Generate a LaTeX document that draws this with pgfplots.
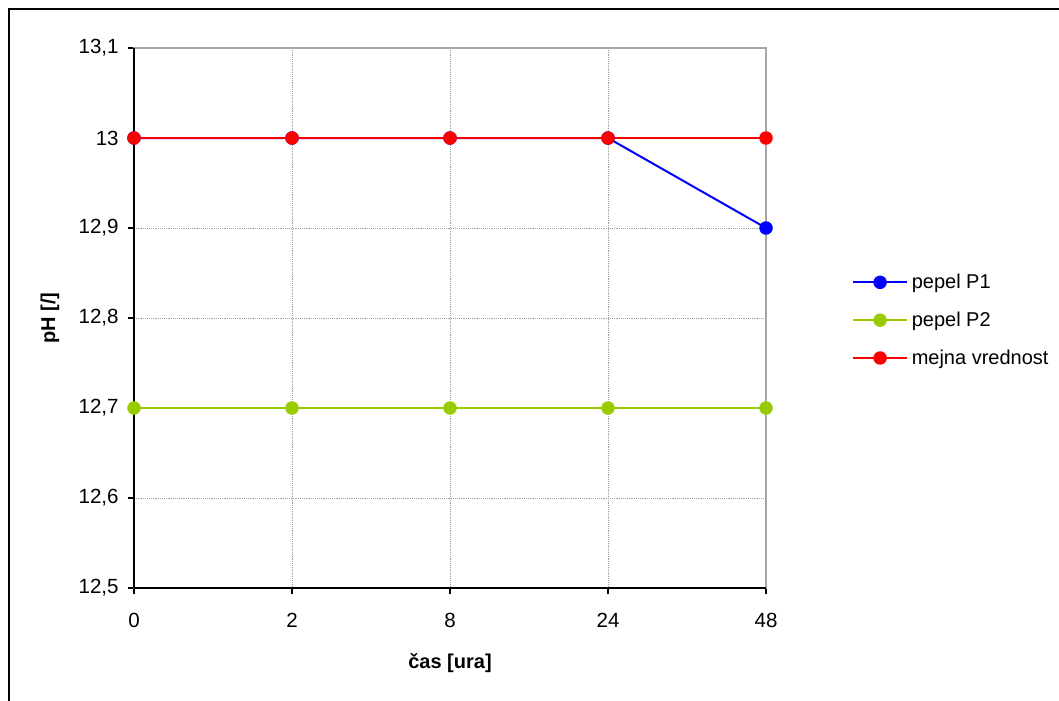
\documentclass[border=0pt]{standalone}
\usepackage{pgfplots}
\pgfplotsset{compat=1.18}
\usepackage{fontspec}
\setmainfont{Liberation Sans}

\definecolor{pOne}{RGB}{0,0,255}
\definecolor{pTwo}{RGB}{153,204,0}
\definecolor{limit}{RGB}{255,0,0}

\begin{document}
\begin{tikzpicture}[x=0.75pt,y=0.75pt]
  \useasboundingbox (0,0) rectangle (1059,700);
  \clip (0,0) rectangle (1059,700);
  % chart frame
  \draw[black, line width=2pt] (9,-30) rectangle (1090,691);
  \begin{axis}[
    at={(100.5pt,84pt)}, anchor=south west,
    scale only axis, width=474pt, height=405pt,
    xmin=0, xmax=4, ymin=12.5, ymax=13.1,
    xtick={0,1,2,3,4}, xticklabels={0,2,8,24,48},
    ytick={12.5,12.6,...,13.1},
    xtick pos=bottom, ytick pos=left,
    tick align=outside, major tick length=4.5pt,
    tick style={black, line width=1.2pt},
    axis line style={draw=gray!70, line width=1.2pt},
    grid=major,
    major grid style={densely dotted, gray!75, line width=0.7pt},
    font=\fontsize{15}{18}\selectfont,
    ticklabel style={font=\fontsize{15.4}{18}\selectfont},
    xticklabel style={yshift=-11pt},
    yticklabel style={xshift=-3.5pt},
    /pgf/number format/.cd, use comma, fixed, precision=1,
    /pgfplots/.cd,
    /pgf/number format/assume math mode=true,
    xlabel={\textbf{čas [ura]}},
    ylabel={\textbf{pH [/]}},
    label style={font=\fontsize{16}{19}\selectfont},
    every axis x label/.style={at={(axis description cs:0.5,0)}, anchor=center, yshift=-56pt},
    every axis y label/.style={at={(axis description cs:0,0.5)}, anchor=center, xshift=-63pt, rotate=90},
    clip=false,
    legend style={
      at={(axis description cs:1.13,0.496)}, anchor=west,
      draw=none, fill=none,
      font=\fontsize{15}{18}\selectfont,
      row sep=16pt,
      nodes={inner ysep=0pt, inner xsep=3pt},
    },
    legend cell align=left,
    legend image code/.code={
      \draw[mark repeat=2,mark phase=2,line width=1.5pt,#1]
        plot coordinates {(0pt,0pt) (20pt,0pt) (40pt,0pt)};
    },
  ]
    % black value axes over the grey plot-area frame
    \draw[black, line width=1.6pt] (rel axis cs:0,0) -- (rel axis cs:0,1);
    \draw[black, line width=1.6pt] (rel axis cs:0,0) -- (rel axis cs:1,0);

    \addplot[pOne, line width=1.5pt, mark=*, mark size=4.3pt,
      mark options={fill=pOne, draw=pOne}]
      coordinates {(0,13) (1,13) (2,13) (3,13) (4,12.9)};
    \addlegendentry{pepel P1}
    \addplot[pTwo, line width=1.5pt, mark=*, mark size=4.3pt,
      mark options={fill=pTwo, draw=pTwo}]
      coordinates {(0,12.7) (1,12.7) (2,12.7) (3,12.7) (4,12.7)};
    \addlegendentry{pepel P2}
    \addplot[limit, line width=1.5pt, mark=*, mark size=4.3pt,
      mark options={fill=limit, draw=limit}]
      coordinates {(0,13) (1,13) (2,13) (3,13) (4,13)};
    \addlegendentry{mejna vrednost}
  \end{axis}
\end{tikzpicture}
\end{document}
